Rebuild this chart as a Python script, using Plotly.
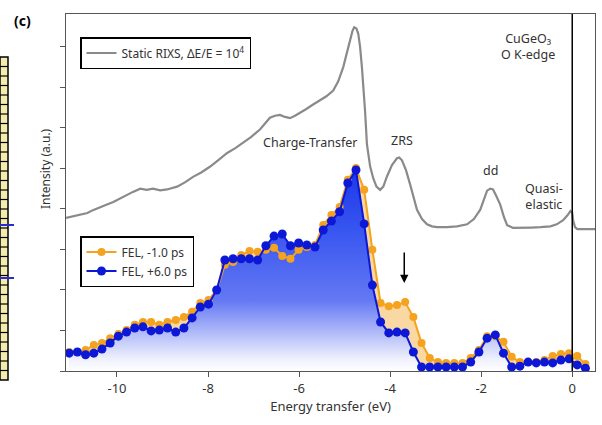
import plotly.graph_objects as go

# ---------------- data ----------------
# Static RIXS reference spectrum (energy transfer in eV, intensity in a.u.)
static_e = [-11.12, -10.95, -10.81, -10.65, -10.53, -10.38, -10.22, -10.08, -9.93, -9.79,
            -9.65, -9.49, -9.35, -9.21, -9.05, -8.90, -8.68, -8.50, -8.33, -8.15,
            -7.96, -7.78, -7.58, -7.40, -7.23, -7.05, -6.86, -6.75, -6.64, -6.53,
            -6.42, -6.31, -6.20, -6.09, -5.98, -5.85, -5.70, -5.54, -5.40, -5.25,
            -5.14, -5.03, -4.95, -4.88, -4.83, -4.79, -4.74, -4.70, -4.66, -4.62,
            -4.58, -4.55, -4.51, -4.44, -4.37, -4.30, -4.22, -4.15, -4.07, -3.96,
            -3.85, -3.80, -3.74, -3.65, -3.56, -3.48, -3.41, -3.30, -3.19, -3.08,
            -2.97, -2.75, -2.53, -2.31, -2.16, -2.02, -1.94, -1.87, -1.80, -1.74,
            -1.66, -1.58, -1.50, -1.43, -1.30, -1.10, -0.90, -0.70, -0.48, -0.34,
            -0.20, -0.10, -0.04, 0.00, 0.02, 0.06, 0.11, 0.25, 0.40, 0.50]
static_i = [3.78, 3.82, 3.86, 3.90, 3.97, 4.03, 4.11, 4.17, 4.26, 4.33,
            4.42, 4.50, 4.47, 4.50, 4.46, 4.48, 4.55, 4.66, 4.79, 4.90,
            5.04, 5.20, 5.38, 5.50, 5.64, 5.78, 5.96, 6.10, 6.25, 6.30,
            6.32, 6.27, 6.24, 6.30, 6.37, 6.46, 6.57, 6.68, 6.78, 6.92,
            7.15, 7.50, 7.85, 8.15, 8.38, 8.48, 8.45, 8.32, 8.00, 7.50,
            6.90, 6.40, 5.60, 5.05, 4.75, 4.55, 4.47, 4.55, 4.80, 5.08,
            5.25, 5.27, 5.20, 4.95, 4.60, 4.25, 3.98, 3.75, 3.62, 3.57,
            3.55, 3.55, 3.57, 3.62, 3.75, 3.98, 4.25, 4.45, 4.50, 4.48,
            4.30, 4.10, 3.80, 3.60, 3.53, 3.53, 3.54, 3.55, 3.57, 3.62,
            3.72, 3.85, 3.95, 3.90, 3.72, 3.55, 3.50, 3.50, 3.50, 3.50]

# FEL spectra at two pump-probe delays
fel_e = [-11.05, -10.87, -10.69, -10.51, -10.33, -10.15, -9.97, -9.79, -9.61, -9.43,
         -9.25, -9.07, -8.89, -8.71, -8.53, -8.35, -8.17, -7.99, -7.81, -7.63,
         -7.45, -7.27, -7.09, -6.91, -6.73, -6.55, -6.37, -6.19, -6.01, -5.83,
         -5.65, -5.47, -5.29, -5.11, -4.93, -4.75, -4.57, -4.39, -4.21, -4.03,
         -3.85, -3.67, -3.49, -3.31, -3.13, -2.95, -2.77, -2.59, -2.41, -2.23,
         -2.05, -1.87, -1.69, -1.51, -1.33, -1.15, -0.97, -0.79, -0.61, -0.43,
         -0.25, -0.07, 0.11, 0.29]
fel_minus1 = [0.47, 0.47, 0.52, 0.64, 0.69, 0.81, 0.91, 1.01, 1.14, 1.21,
              1.21, 1.14, 1.21, 1.26, 1.33, 1.46, 1.68, 1.75, 2.00, 2.62,
              2.69, 2.86, 2.96, 2.94, 2.99, 3.04, 2.84, 2.77, 2.99, 3.06,
              3.11, 3.60, 3.85, 4.05, 4.72, 5.01, 4.47, 2.99, 1.68, 1.60,
              1.63, 1.70, 1.33, 0.69, 0.32, 0.22, 0.20, 0.20, 0.20, 0.32,
              0.52, 0.86, 0.86, 0.72, 0.35, 0.22, 0.22, 0.22, 0.27, 0.37,
              0.42, 0.44, 0.37, 0.17]
fel_plus6 = [0.44, 0.47, 0.40, 0.44, 0.54, 0.69, 0.86, 0.96, 1.06, 1.09,
             0.99, 1.01, 1.06, 0.96, 1.06, 1.31, 1.58, 1.65, 2.00, 2.74,
             2.77, 2.77, 2.77, 2.74, 3.09, 3.33, 3.38, 3.09, 3.16, 3.11,
             3.06, 3.48, 3.70, 3.93, 4.64, 4.96, 3.63, 2.12, 1.21, 0.94,
             0.96, 0.94, 0.47, 0.10, 0.10, 0.10, 0.10, 0.10, 0.10, 0.22,
             0.47, 0.81, 0.89, 0.44, 0.10, 0.12, 0.22, 0.20, 0.22, 0.20,
             0.27, 0.30, 0.15, 0.07]

x_ticks = [-10, -8, -6, -4, -2, 0]
y_ticks = [0, 1, 2, 3, 4, 5, 6, 7, 8]

# ---------------- styling ----------------
FONT = "Noto Sans"
TXT = "#333333"
ORANGE = "#f5a31f"
BLUE = "#0c18d6"
GREY = "#8a8a8a"

W, H = 602, 425
ML, MR, MT, MB = 66, 7, 14, 54

fig = go.Figure()

# filled areas first so that both marker series sit above them
fig.add_trace(go.Scatter(
    x=fel_e, y=fel_minus1, mode="none", fill="tozeroy",
    fillcolor="rgba(245,168,50,0.45)", showlegend=False, hoverinfo="skip"))
fig.add_trace(go.Scatter(
    x=fel_e, y=fel_plus6, mode="none", fill="tozeroy",
    fillgradient=dict(type="vertical", start=0, stop=5,
                      colorscale=[[0.0, "rgb(255,255,255)"],
                                  [0.06, "rgb(238,240,253)"],
                                  [0.35, "rgb(100,120,243)"],
                                  [0.7, "rgb(55,85,240)"],
                                  [1.0, "rgb(28,55,232)"]]),
    showlegend=False, hoverinfo="skip"))

fig.add_trace(go.Scatter(
    x=static_e, y=static_i, mode="lines",
    line=dict(color=GREY, width=2.2),
    name="Static RIXS, \u0394E/E = 10<sup>4</sup>", legend="legend2"))

fig.add_trace(go.Scatter(
    x=fel_e, y=fel_minus1, mode="lines+markers",
    line=dict(color=ORANGE, width=2), marker=dict(color=ORANGE, size=8),
    name="FEL, -1.0 ps", legend="legend"))
fig.add_trace(go.Scatter(
    x=fel_e, y=fel_plus6, mode="lines+markers",
    line=dict(color=BLUE, width=2), marker=dict(color=BLUE, size=9),
    name="FEL, +6.0 ps", legend="legend"))

pw, ph = W - ML - MR, H - MT - MB


def px_x(p):
    return (p - ML) / pw


def px_y(p):
    return (H - MB - p) / ph


shapes = [
    # elastic line
    dict(type="line", xref="x", yref="paper", x0=0, x1=0, y0=0, y1=1,
         line=dict(color="black", width=1.5)),
    # neighbouring panel strip at the far left
    dict(type="rect", xref="paper", yref="paper",
         x0=px_x(0), x1=px_x(8), y0=px_y(380), y1=px_y(57),
         fillcolor="#f4ecae", line=dict(color="black", width=1.5)),
]
n_rungs = 34
for i in range(1, n_rungs):
    yy = 57 + i * (380 - 57) / n_rungs
    shapes.append(dict(type="line", xref="paper", yref="paper",
                       x0=px_x(0), x1=px_x(8), y0=px_y(yy), y1=px_y(yy),
                       line=dict(color="black", width=1.2)))
for yy in (225, 278):
    shapes.append(dict(type="line", xref="paper", yref="paper",
                       x0=px_x(0), x1=px_x(14), y0=px_y(yy), y1=px_y(yy),
                       line=dict(color="#2a2ad8", width=2)))

annotations = [
    dict(text="<b>(c)</b>", xref="paper", yref="paper", x=px_x(22), y=px_y(20),
         xanchor="center", yanchor="middle",
         showarrow=False, font=dict(size=14, color="black", family=FONT)),
    dict(text="Intensity (a.u.)", xref="paper", yref="paper", x=px_x(45), y=px_y(169),
         xanchor="center", yanchor="middle",
         textangle=-90, showarrow=False, font=dict(size=12, color=TXT, family=FONT)),
    dict(text="Charge-Transfer", x=-5.76, y=5.63, showarrow=False,
         font=dict(size=12.5, color=TXT, family=FONT)),
    dict(text="ZRS", x=-3.74, y=5.68, showarrow=False,
         font=dict(size=12.5, color=TXT, family=FONT)),
    dict(text="dd", x=-1.80, y=4.96, showarrow=False,
         font=dict(size=12.5, color=TXT, family=FONT)),
    dict(text="Quasi-<br>elastic", x=-0.61, y=4.30, showarrow=False, align="center",
         font=dict(size=12.5, color=TXT, family=FONT)),
    dict(text="CuGeO\u2083<br>O K-edge", x=-0.97, y=8.0, showarrow=False,
         align="center", font=dict(size=12.5, color=TXT, family=FONT)),
    dict(text="", x=-3.69, y=2.17, ax=0, ay=-32, showarrow=True,
         arrowhead=2, arrowsize=1.1, arrowwidth=1.5, arrowcolor="black"),
]

axis_common = dict(showline=True, linecolor="#555555", linewidth=1.2, mirror=True,
                   showgrid=False, zeroline=False, ticks="outside", ticklen=5,
                   tickcolor="#555555", tickwidth=1)

fig.update_layout(
    width=W, height=H,
    margin=dict(l=ML, r=MR, t=MT, b=MB),
    paper_bgcolor="white", plot_bgcolor="white",
    font=dict(family=FONT, color=TXT),
    xaxis=dict(range=[-11.12, 0.5], tickvals=x_ticks,
               ticktext=[str(v) for v in x_ticks],
               tickfont=dict(size=13, color=TXT),
               title=dict(text="Energy transfer (eV)", font=dict(size=13, color=TXT),
                          standoff=4),
               **axis_common),
    yaxis=dict(range=[0, 8.81], tickvals=y_ticks, showticklabels=False,
               **axis_common),
    legend=dict(x=px_x(80), y=px_y(236), xanchor="left", yanchor="top",
                bordercolor="black", borderwidth=1.5, bgcolor="white",
                font=dict(size=12, color=TXT, family=FONT), tracegroupgap=0,
                itemwidth=30),
    legend2=dict(x=px_x(80), y=px_y(37), xanchor="left", yanchor="top",
                 bordercolor="black", borderwidth=1.5, bgcolor="white",
                 font=dict(size=12, color=TXT, family=FONT), itemwidth=30),
    shapes=shapes,
    annotations=annotations,
    showlegend=True,
)

fig.write_html("out.html")
